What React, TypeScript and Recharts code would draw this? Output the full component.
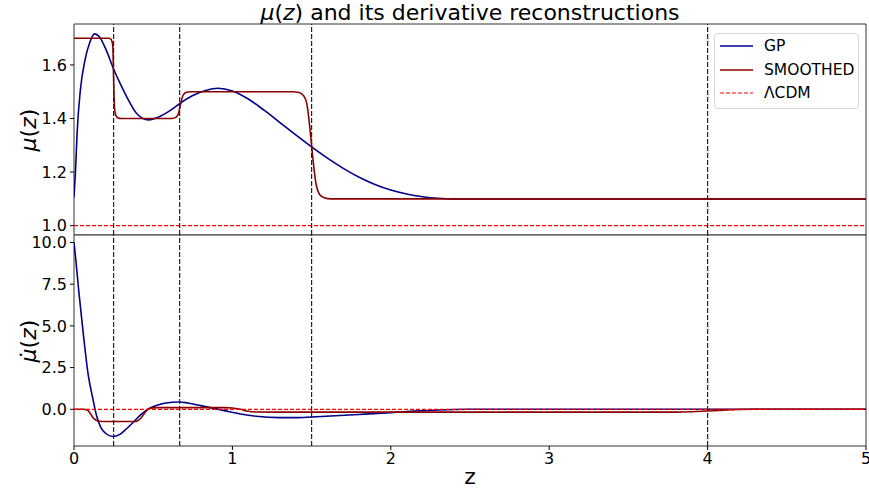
import React from 'react';
import { LineChart, Line, XAxis, YAxis, ReferenceLine, ReferenceArea, Legend } from 'recharts';

const FONT = '"DejaVu Sans", sans-serif';

// GP reconstruction of mu(z)
const gpMuZ = [0, 0.01, 0.02, 0.04, 0.07, 0.1, 0.13, 0.16, 0.2, 0.25, 0.3, 0.35, 0.4, 0.47, 0.55, 0.62, 0.67, 0.75, 0.83, 0.91, 1.0, 1.1, 1.2, 1.3, 1.4, 1.5, 1.6, 1.7, 1.8, 1.9, 2.0, 2.1, 2.2, 2.3, 2.4, 2.5, 3.0, 4.0, 5.0];
const gpMu = [1.105, 1.21, 1.35, 1.505, 1.62, 1.685, 1.716, 1.705, 1.66, 1.585, 1.52, 1.462, 1.416, 1.395, 1.41, 1.435, 1.457, 1.486, 1.505, 1.513, 1.503, 1.473, 1.431, 1.385, 1.339, 1.294, 1.252, 1.214, 1.181, 1.154, 1.133, 1.118, 1.108, 1.102, 1.1, 1.1, 1.1, 1.1, 1.1];

// smoothed step reconstruction of mu(z)
const smoothMuZ = [0, 0.22, 0.235, 0.245, 0.25, 0.255, 0.262, 0.275, 0.3, 0.62, 0.645, 0.66, 0.675, 0.69, 0.71, 0.74, 1.38, 1.42, 1.45, 1.47, 1.49, 1.5, 1.51, 1.53, 1.56, 1.6, 1.65, 5.0];
const smoothMu = [1.7, 1.7, 1.695, 1.67, 1.55, 1.45, 1.415, 1.403, 1.4, 1.4, 1.405, 1.42, 1.46, 1.488, 1.498, 1.5, 1.5, 1.497, 1.485, 1.455, 1.36, 1.3, 1.24, 1.15, 1.11, 1.101, 1.1, 1.1];

// derivatives
const gpDerivZ = [0, 0.01, 0.03, 0.06, 0.09, 0.12, 0.14, 0.17, 0.2, 0.245, 0.29, 0.33, 0.38, 0.42, 0.48, 0.55, 0.62, 0.66, 0.72, 0.8, 0.86, 0.95, 1.05, 1.15, 1.3, 1.4, 1.5, 1.65, 1.8, 2.0, 2.15, 2.3, 2.5, 3.0, 4.0, 5.0];
const gpDeriv = [10, 9.1, 7.1, 4.4, 2.05, 0.6, -0.3, -1.1, -1.45, -1.63, -1.5, -1.18, -0.72, -0.33, 0.08, 0.32, 0.42, 0.44, 0.38, 0.22, 0.1, -0.08, -0.28, -0.42, -0.5, -0.5, -0.46, -0.39, -0.31, -0.2, -0.11, -0.04, 0, 0, 0, 0];

const smoothDerivZ = [0, 0.06, 0.08, 0.1, 0.12, 0.14, 0.16, 0.2, 0.38, 0.4, 0.42, 0.44, 0.46, 0.48, 0.52, 0.95, 1.0, 1.05, 1.1, 1.15, 1.3, 3.8, 3.9, 4.0, 4.1, 4.2, 4.3, 5.0];
const smoothDeriv = [0, 0, -0.03, -0.2, -0.5, -0.66, -0.72, -0.73, -0.73, -0.7, -0.55, -0.3, -0.05, 0.06, 0.1, 0.1, 0.08, 0, -0.12, -0.16, -0.17, -0.17, -0.15, -0.1, -0.05, -0.01, 0, 0];

// LambdaCDM reference
const lcdmZ = [0, 5];
const lcdmMu = [1, 1];
const lcdmDeriv = [0, 0];

// redshift bin edges
const binEdges = [0.25, 0.667, 1.5, 4.0];

const zTicks = [0, 1, 2, 3, 4, 5];
const muTicks = [1.0, 1.2, 1.4, 1.6];
const derivTicks = [0, 2.5, 5, 7.5, 10];

const Z_DOMAIN: [number, number] = [0, 5];
const MU_DOMAIN: [number, number] = [0.965, 1.753];
const DERIV_DOMAIN: [number, number] = [-2.2, 10.45];

const toPoints = (zs: number[], vs: number[]) => zs.map((z, i) => ({ z, v: vs[i] }));

const GP_COLOR = '#00008b';
const SMOOTH_COLOR = '#8b0000';
const LCDM_COLOR = '#ff0000';

const tickStyle = { fill: '#000', fontSize: 16, fontFamily: FONT };

const renderLegend = ({ payload }: any) => (
  <div
    style={{
      border: '1px solid #d6d6d6',
      borderRadius: 4,
      background: 'rgba(255,255,255,0.8)',
      padding: '0 0 3px 5px',
      fontFamily: FONT,
      fontSize: 15.5,
      color: '#000',
      boxSizing: 'border-box',
    }}
  >
    {(payload || []).map((entry: any) => (
      <div key={entry.value} style={{ display: 'flex', alignItems: 'center', height: 23.7 }}>
        <svg width={33} height={6}>
          <line
            x1={0}
            y1={3}
            x2={33}
            y2={3}
            stroke={entry.color}
            strokeWidth={entry.payload?.strokeDasharray ? 1.2 : 1.6}
            strokeDasharray={entry.payload?.strokeDasharray}
          />
        </svg>
        <span style={{ marginLeft: 11 }}>{entry.value}</span>
      </div>
    ))}
  </div>
);

const binLines = binEdges.map((z) => (
  <ReferenceLine key={z} x={z} stroke="#222" strokeWidth={1.2} strokeDasharray="5 2" />
));

const App = () => (
  <div style={{ position: 'absolute', left: 0, top: 0, width: 869, height: 491, background: '#fff' }}>
    <div style={{ position: 'absolute', left: 0, top: 0 }}>
      <LineChart width={869} height={235} margin={{ top: 24, right: 3, bottom: 0, left: 0 }}>
        <XAxis type="number" dataKey="z" domain={Z_DOMAIN} allowDataOverflow hide />
        <YAxis
          type="number"
          domain={MU_DOMAIN}
          allowDataOverflow
          ticks={muTicks}
          interval={0}
          width={74}
          tick={tickStyle}
          tickFormatter={(v: number) => v.toFixed(1)}
          tickSize={4}
          tickMargin={3}
          tickLine={{ stroke: '#000' }}
          axisLine={false}
        />
        <ReferenceArea x1={0} x2={5} y1={MU_DOMAIN[0]} y2={MU_DOMAIN[1]} fill="none" stroke="#333" strokeWidth={1} />
        <Line data={toPoints(gpMuZ, gpMu)} dataKey="v" name="GP" type="monotone" stroke={GP_COLOR} strokeWidth={1.6} dot={false} isAnimationActive={false} />
        <Line data={toPoints(smoothMuZ, smoothMu)} dataKey="v" name="SMOOTHED" type="monotone" stroke={SMOOTH_COLOR} strokeWidth={1.6} dot={false} isAnimationActive={false} />
        <Line data={toPoints(lcdmZ, lcdmMu)} dataKey="v" name="ΛCDM" type="linear" stroke={LCDM_COLOR} strokeWidth={1.2} strokeDasharray="4 2" dot={false} isAnimationActive={false} />
        {binLines}
        <Legend
          layout="vertical"
          align="center"
          verticalAlign="middle"
          wrapperStyle={{ left: 714, top: 33, width: 145, height: 74 }}
          content={renderLegend}
        />
      </LineChart>
    </div>
    {/* lower panel starts 20px higher so its top tick label has room */}
    <div style={{ position: 'absolute', left: 0, top: 215 }}>
      <LineChart width={869} height={276} margin={{ top: 20, right: 3, bottom: 0, left: 0 }}>
        <XAxis
          type="number"
          dataKey="z"
          domain={Z_DOMAIN}
          allowDataOverflow
          ticks={zTicks}
          interval={0}
          height={45}
          tick={tickStyle}
          tickSize={4}
          tickMargin={3}
          tickLine={{ stroke: '#000' }}
          axisLine={false}
        />
        <YAxis
          type="number"
          domain={DERIV_DOMAIN}
          allowDataOverflow
          ticks={derivTicks}
          interval={0}
          width={74}
          tick={tickStyle}
          tickFormatter={(v: number) => v.toFixed(1)}
          tickSize={4}
          tickMargin={3}
          tickLine={{ stroke: '#000' }}
          axisLine={false}
        />
        <ReferenceArea x1={0} x2={5} y1={DERIV_DOMAIN[0]} y2={DERIV_DOMAIN[1]} fill="none" stroke="#333" strokeWidth={1} />
        <Line data={toPoints(gpDerivZ, gpDeriv)} dataKey="v" name="GP" type="monotone" stroke={GP_COLOR} strokeWidth={1.6} dot={false} isAnimationActive={false} />
        <Line data={toPoints(smoothDerivZ, smoothDeriv)} dataKey="v" name="SMOOTHED" type="monotone" stroke={SMOOTH_COLOR} strokeWidth={1.6} dot={false} isAnimationActive={false} />
        <Line data={toPoints(lcdmZ, lcdmDeriv)} dataKey="v" name="ΛCDM" type="linear" stroke={LCDM_COLOR} strokeWidth={1.2} strokeDasharray="4 2" dot={false} isAnimationActive={false} />
        {binLines}
      </LineChart>
    </div>
    <svg
      width={869}
      height={491}
      style={{ position: 'absolute', left: 0, top: 0, pointerEvents: 'none' }}
      fontFamily={FONT}
    >
      <text x={470} y={20} textAnchor="middle" fontSize={22} fill="#000">
        <tspan fontStyle="italic">μ</tspan>(<tspan fontStyle="italic">z</tspan>) and its derivative reconstructions
      </text>
      <text transform="translate(36,130) rotate(-90)" textAnchor="middle" fontSize={22} fill="#000">
        <tspan fontStyle="italic">μ</tspan>(<tspan fontStyle="italic">z</tspan>)
      </text>
      <text transform="translate(36,341) rotate(-90)" textAnchor="middle" fontSize={22} fill="#000">
        <tspan fontStyle="italic">μ̇</tspan>(<tspan fontStyle="italic">z</tspan>)
      </text>
      <text x={470} y={484} textAnchor="middle" fontSize={22} fill="#000">
        z
      </text>
    </svg>
  </div>
);

export default App;
